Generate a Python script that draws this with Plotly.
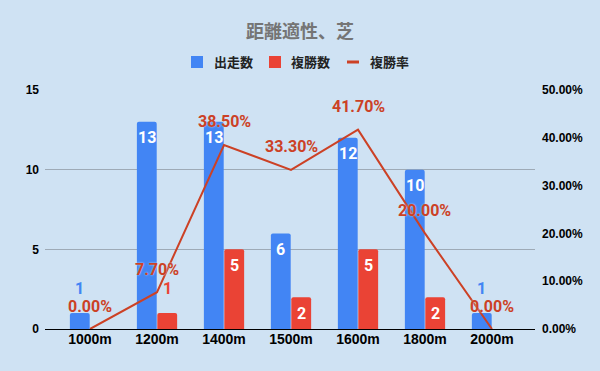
import plotly.graph_objects as go

categories = ["1000m", "1200m", "1400m", "1500m", "1600m", "1800m", "2000m"]
starts = [1, 13, 13, 6, 12, 10, 1]          # 出走数
places = [0, 1, 5, 2, 5, 2, 0]              # 複勝数
place_rate = [0.0, 7.7, 38.5, 33.3, 41.7, 20.0, 0.0]  # 複勝率 (%)
series_names = ["出走数", "複勝数", "複勝率"]

BLUE = "#4285f4"
RED = "#ea4335"
LINE = "#cc4125"
BG = "#cfe2f3"
LABEL_FONT = "Roboto, Arial, sans-serif"
TICK_FONT = "Liberation Sans, Arial, sans-serif"
CJK = "Noto Sans CJK JP, sans-serif"

W, H = 600, 371
ML, MR, MT, MB = 45, 65, 90, 42
PW, PH = W - ML - MR, H - MT - MB


def px(x):
    return (x - ML) / PW


def py(y):
    return (H - MB - y) / PH


fig = go.Figure()
fig.add_trace(go.Bar(x=categories, y=starts, name=series_names[0], marker_color=BLUE,
                     marker_line_width=0, yaxis="y"))
fig.add_trace(go.Bar(x=categories, y=places, name=series_names[1], marker_color=RED,
                     marker_line_width=0, yaxis="y"))
fig.add_trace(go.Scatter(x=categories, y=[v / 100 for v in place_rate], name=series_names[2],
                         mode="lines", line=dict(color=LINE, width=2), yaxis="y2"))

annotations = []
shapes = []
halo = "0px 0px 2px " + BG
# bar labels
for series, shift, col in ((starts, -10.25, BLUE), (places, 10.25, RED)):
    for c, v in zip(categories, series):
        if v == 0:
            continue
        if v >= 2:
            annotations.append(dict(x=c, y=v, xref="x", yref="y", xshift=shift, yshift=-16,
                                    text=f"<b>{v}</b>", showarrow=False,
                                    font=dict(family=LABEL_FONT, size=16, color="#ffffff")))
        else:
            annotations.append(dict(x=c, y=v, xref="x", yref="y", xshift=shift, yshift=25,
                                    text=f"<b>{v}</b>", showarrow=False,
                                    font=dict(family=LABEL_FONT, size=16, color=col, shadow=halo)))
# line labels
for c, v in zip(categories, place_rate):
    annotations.append(dict(x=c, y=v / 100, xref="x", yref="y2", yshift=23,
                            text=f"<b>{v:.2f}%</b>", showarrow=False,
                            font=dict(family=LABEL_FONT, size=16, color=LINE, shadow=halo)))

# legend (drawn manually to match the compact layout)
LEG_Y = 62
legend_items = [(191, 212, BLUE, "rect"), (269, 289, RED, "rect"), (347, 368, LINE, "line")]
for name, (sx, tx, col, kind) in zip(series_names, legend_items):
    if kind == "rect":
        shapes.append(dict(type="rect", xref="paper", yref="paper",
                           x0=px(sx), x1=px(sx + 12), y0=py(LEG_Y + 6), y1=py(LEG_Y - 6),
                           fillcolor=col, line=dict(width=0)))
    else:
        shapes.append(dict(type="line", xref="paper", yref="paper",
                           x0=px(sx), x1=px(sx + 12), y0=py(LEG_Y), y1=py(LEG_Y),
                           line=dict(color=col, width=3)))
    annotations.append(dict(x=px(tx), y=py(LEG_Y), xref="paper", yref="paper",
                            xanchor="left", yanchor="middle", showarrow=False,
                            text=f"<b>{name}</b>",
                            font=dict(family=CJK, size=13, color="#222222")))

fig.update_layout(
    width=W, height=H,
    paper_bgcolor=BG, plot_bgcolor=BG,
    margin=dict(l=ML, r=MR, t=MT, b=MB),
    title=dict(text="<b>距離適性、芝</b>", x=0.5, xanchor="center", y=1 - 32 / H, yanchor="middle",
               font=dict(family=CJK, size=18, color="#757575")),
    barmode="group", bargap=0.39, bargroupgap=0.03,
    barcornerradius=2,
    showlegend=False,
    xaxis=dict(type="category", range=[-0.672, 6.642], showgrid=False, ticks="",
               tickfont=dict(family=TICK_FONT, size=14, color="#000000", weight="bold"),
               showline=False, zeroline=False),
    yaxis=dict(range=[0, 15], dtick=5, tick0=0, showgrid=True, gridcolor="#9eaab6", gridwidth=1,
               zeroline=True, zerolinecolor="#000000", zerolinewidth=1, ticks="",
               ticklabelstandoff=5,
               tickfont=dict(family=TICK_FONT, size=12, color="#000000", weight="bold")),
    yaxis2=dict(range=[0, 0.5], dtick=0.1, tick0=0, tickformat=".2%", overlaying="y", side="right",
                showgrid=False, zeroline=False, ticks="", ticklabelstandoff=6,
                tickfont=dict(family=TICK_FONT, size=12, color="#000000", weight="bold")),
    annotations=annotations,
    shapes=shapes,
)

fig.write_html("out.html", config={"displayModeBar": False},
               post_script="document.body.style.margin='0';document.body.style.padding='0';")
